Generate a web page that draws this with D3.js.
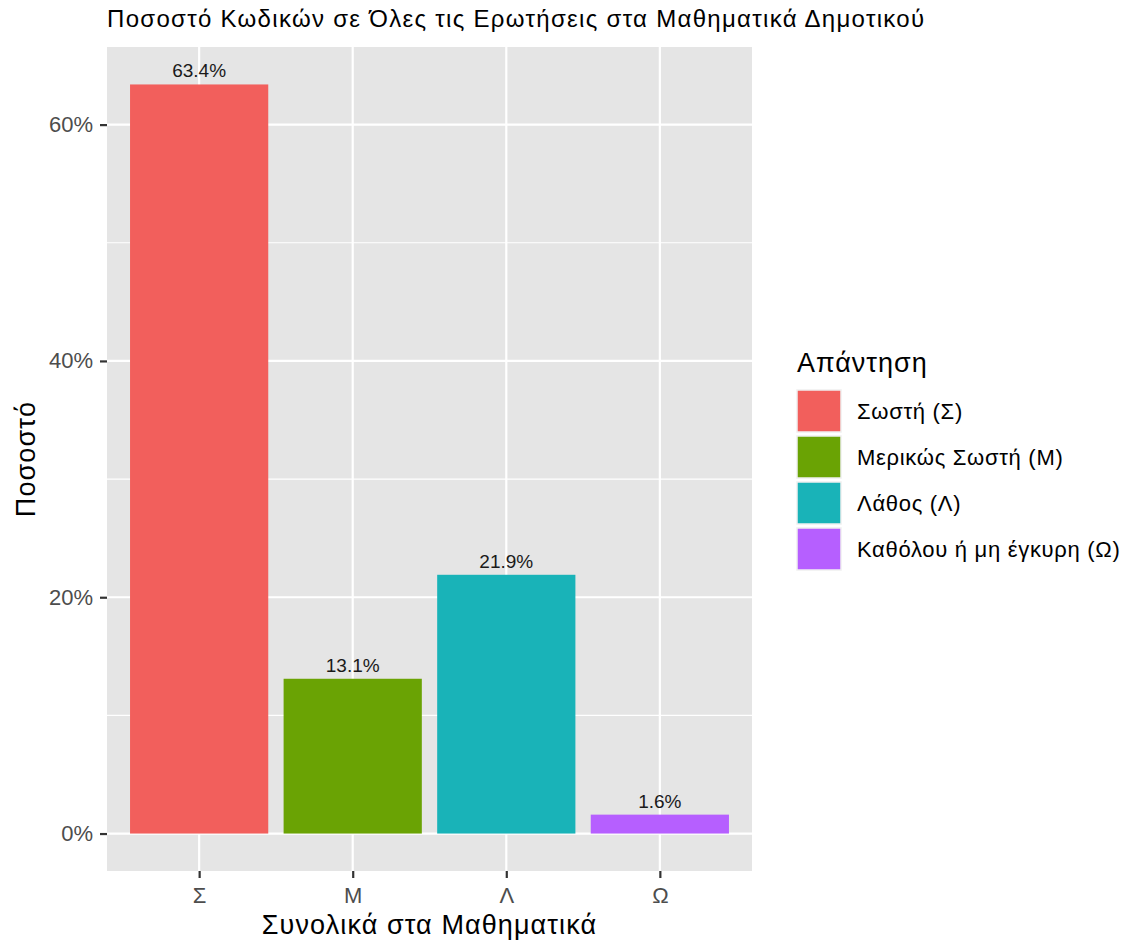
<!DOCTYPE html>
<html><head><meta charset="utf-8">
<script src="https://cdn.jsdelivr.net/npm/d3@7"></script>
<style>body{margin:0;background:#fff;font-family:"Liberation Sans",Arial,Helvetica,sans-serif;}
svg text{font-family:"Liberation Sans",Arial,Helvetica,sans-serif;}</style>
</head><body>
<svg id="c" width="1129" height="943"></svg>
<script>
const categories = ["Σ","Μ","Λ","Ω"];
const values = [63.4, 13.1, 21.9, 1.6];
const legendLabels = ["Σωστή (Σ)","Μερικώς Σωστή (Μ)","Λάθος (Λ)","Καθόλου ή μη έγκυρη (Ω)"];
const barColors = ["#F25F5C","#6AA304","#19B3B8","#B65FFF"];
const yTicks = [0,20,40,60];
const yMinor = [10,30,50];

const svg = d3.select("#c");
const P = {l:107, r:752, t:47, b:871};
const maxV = d3.max(values);
const y = d3.scaleLinear().domain([-0.05*maxV, 1.05*maxV]).range([P.b, P.t]);
const xc = d3.scaleLinear().domain([0.4, categories.length + 0.6]).range([P.l, P.r]);
const xp = d3.scalePoint().domain(categories).range([xc(1), xc(categories.length)]);

svg.append("rect").attr("x",P.l).attr("y",P.t).attr("width",P.r-P.l).attr("height",P.b-P.t).attr("fill","#E5E5E5");

const g = svg.append("g");
yMinor.forEach(v=>g.append("line").attr("x1",P.l).attr("x2",P.r).attr("y1",y(v)).attr("y2",y(v)).attr("stroke","#fff").attr("stroke-width",1.1));
yTicks.forEach(v=>g.append("line").attr("x1",P.l).attr("x2",P.r).attr("y1",y(v)).attr("y2",y(v)).attr("stroke","#fff").attr("stroke-width",2.2));
categories.forEach(c=>g.append("line").attr("x1",xp(c)).attr("x2",xp(c)).attr("y1",P.t).attr("y2",P.b).attr("stroke","#fff").attr("stroke-width",2.2));

// bars
categories.forEach((c,i)=>{
  const x0 = xc(i+1-0.45), x1 = xc(i+1+0.45);
  svg.append("rect").attr("x",x0).attr("y",y(values[i])).attr("width",x1-x0).attr("height",y(0)-y(values[i])).attr("fill",barColors[i]);
  svg.append("text").attr("x",xp(c)).attr("y",y(values[i])-7).attr("text-anchor","middle")
    .style("font-size","19px").attr("fill","#1a1a1a").text(values[i].toFixed(1)+"%");
});

// y axis
const ya = svg.append("g").attr("transform",`translate(${P.l},0)`)
  .call(d3.axisLeft(y).tickValues(yTicks).tickFormat(d=>d+"%").tickSize(7).tickPadding(7));
ya.select(".domain").remove();
ya.selectAll("line").attr("stroke","#333").attr("stroke-width",2.2);
ya.selectAll("text").style("font-size","22px").attr("fill","#4D4D4D");

// x axis
const xa = svg.append("g").attr("transform",`translate(0,${P.b})`)
  .call(d3.axisBottom(xp).tickSize(7).tickPadding(9));
xa.select(".domain").remove();
xa.selectAll("line").attr("stroke","#333").attr("stroke-width",2.2);
xa.selectAll("text").style("font-size","22px").attr("fill","#4D4D4D");

// titles
svg.append("text").attr("x",P.l).attr("y",27).style("font-size","24px").style("letter-spacing","1.3px").attr("fill","#000")
  .text("Ποσοστό Κωδικών σε Όλες τις Ερωτήσεις στα Μαθηματικά Δημοτικού");
svg.append("text").attr("x",(P.l+P.r)/2).attr("y",934).attr("text-anchor","middle").style("font-size","27px").style("letter-spacing","1.1px").attr("fill","#000")
  .text("Συνολικά στα Μαθηματικά");
svg.append("text").attr("transform",`translate(35,${(P.t+P.b)/2}) rotate(-90)`).attr("text-anchor","middle").style("font-size","27px").style("letter-spacing","1.1px").attr("fill","#000")
  .text("Ποσοστό");

// legend
const L = {x:797, y:390, s:44, h:46};
svg.append("text").attr("x",L.x).attr("y",372).style("font-size","27px").style("letter-spacing","1px").attr("fill","#000").text("Απάντηση");
legendLabels.forEach((t,i)=>{
  svg.append("rect").attr("x",L.x).attr("y",L.y+i*L.h).attr("width",L.s).attr("height",L.h-4)
    .attr("fill",barColors[i]).attr("stroke","#f0f0f0").attr("stroke-width",1.5);
  svg.append("text").attr("x",857).attr("y",L.y+i*L.h+21+8)
    .style("font-size","22px").style("letter-spacing","0.7px").attr("fill","#000").text(t);
});
</script>
</body></html>
